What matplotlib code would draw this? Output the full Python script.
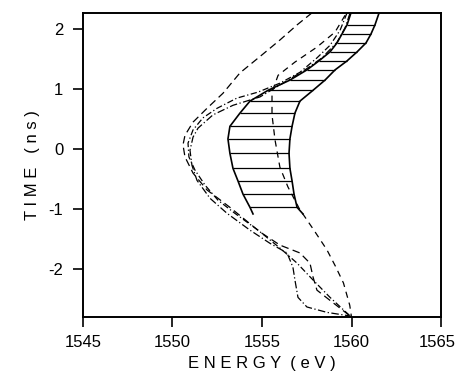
import matplotlib

matplotlib.use("Agg")
import matplotlib.pyplot as plt  # noqa: E402
from matplotlib.transforms import ScaledTranslation  # noqa: E402

plt.rcParams.update(
    {
        "font.family": ["Liberation Sans", "DejaVu Sans"],
        "font.size": 12,
        "axes.linewidth": 1.4,
        "axes.unicode_minus": False,
    }
)

# hatched band: left/right edges at the hatch times (ns -> eV)
band_t = [2.27, 2.07, 1.92, 1.77, 1.62, 1.47, 1.32, 1.15, 0.98, 0.80,
          0.60, 0.38, 0.17, -0.07, -0.32, -0.53, -0.75, -0.97, -1.08]
band_left = [1559.97, 1559.75, 1559.47, 1559.19, 1558.80, 1558.18, 1557.51,
             1556.56, 1555.34, 1554.33, 1553.77, 1553.21, 1553.10, 1553.21,
             1553.38, 1553.66, 1553.94, 1554.33, 1554.50]
band_right = [1561.54, 1561.31, 1561.09, 1560.81, 1560.31, 1559.75, 1559.08,
              1558.52, 1557.85, 1557.12, 1556.84, 1556.68, 1556.56, 1556.51,
              1556.56, 1556.68, 1556.79, 1556.96, 1557.29]

# long-dashed outer curve
a_e = [1557.79, 1556.96, 1556.01, 1555.00, 1553.77, 1552.82, 1551.93, 1551.15,
       1550.70, 1550.59, 1550.70, 1551.15, 1551.93, 1553.21, 1554.89, 1556.01,
       1557.12, 1557.68, 1557.85, 1558.07, 1558.80, 1559.92, 1560.0]
a_t = [2.27, 2.07, 1.82, 1.57, 1.27, 0.93, 0.68, 0.45, 0.23, 0.07, -0.13,
       -0.40, -0.68, -0.97, -1.38, -1.60, -1.73, -1.90, -2.13, -2.35, -2.52,
       -2.78, -2.80]

# dash-dot curves
b_e = [1559.75, 1559.36, 1558.80, 1558.07, 1557.12, 1556.01, 1554.78, 1553.60,
       1552.49, 1551.70, 1551.15, 1550.87, 1550.92, 1551.26, 1551.82, 1552.54,
       1553.49, 1554.78, 1556.01, 1556.96, 1557.85, 1558.80, 1559.92, 1560.0]
b_t = [2.27, 1.98, 1.73, 1.52, 1.28, 1.10, 0.95, 0.85, 0.68, 0.52, 0.32, 0.10,
       -0.13, -0.35, -0.60, -0.85, -1.07, -1.35, -1.65, -1.90, -2.18, -2.47,
       -2.78, -2.80]

c_e = [1559.92, 1559.64, 1559.19, 1558.35, 1557.40, 1556.29, 1554.89, 1553.38,
       1552.26, 1551.43, 1551.15, 1550.98, 1551.09, 1551.37, 1552.10, 1553.05,
       1554.33, 1555.45, 1556.40, 1556.73, 1556.84, 1557.01, 1557.51, 1558.63,
       1559.92, 1560.0]
c_t = [2.27, 2.02, 1.78, 1.52, 1.32, 1.12, 0.87, 0.73, 0.57, 0.35, 0.20, -0.02,
       -0.27, -0.52, -0.82, -1.07, -1.35, -1.57, -1.73, -1.97, -2.18, -2.47,
       -2.63, -2.72, -2.78, -2.80]

# dashed curve running through the band
d_e = [1559.64, 1559.08, 1558.07, 1556.84, 1555.90, 1555.56, 1555.56, 1555.73,
       1556.00, 1556.45, 1557.10, 1557.90, 1558.63, 1559.10, 1559.55, 1559.90,
       1560.0]
d_t = [2.23, 1.95, 1.70, 1.45, 1.23, 0.95, 0.57, 0.15, -0.30, -0.63, -1.00,
       -1.35, -1.68, -1.95, -2.23, -2.60, -2.80]

x_ticks = [1545, 1550, 1555, 1560, 1565]
y_ticks = [-2, -1, 0, 1, 2]

fig = plt.figure(figsize=(4.58, 3.84), dpi=100)
ax = fig.add_axes([0.181, 0.174, 0.782, 0.792])

k = "black"
ax.plot(band_left, band_t, color=k, lw=1.2)
ax.plot(band_right, band_t, color=k, lw=1.2)
ax.hlines(band_t[1:-1], band_left[1:-1], band_right[1:-1], color=k, lw=0.9)

ax.plot(a_e, a_t, color=k, lw=0.9, dashes=(6, 3.5))
ax.plot(b_e, b_t, color=k, lw=0.9, dashes=(5, 2, 1, 2))
ax.plot(c_e, c_t, color=k, lw=0.9, dashes=(6, 2, 1, 2))
ax.plot(d_e, d_t, color=k, lw=0.9, dashes=(5, 4))

ax.set_xlim(1545, 1565)
ax.set_ylim(-2.8, 2.267)
ax.set_xticks(x_ticks)
ax.set_yticks(y_ticks)
ax.tick_params(direction="out", length=7, width=1.2, pad=6, labelsize=12)
ax.tick_params(axis="y", pad=7)
# last x label sits right at the figure edge in the original
last = ax.get_xticklabels()[-1]
last.set_transform(last.get_transform() + ScaledTranslation(-3 / 72, 0, fig.dpi_scale_trans))
ax.set_xlabel("E N E R G Y  ( e V )", labelpad=4)
ax.set_ylabel("T I M E   ( n s )", labelpad=6)

fig.savefig("out.png", dpi=100)
